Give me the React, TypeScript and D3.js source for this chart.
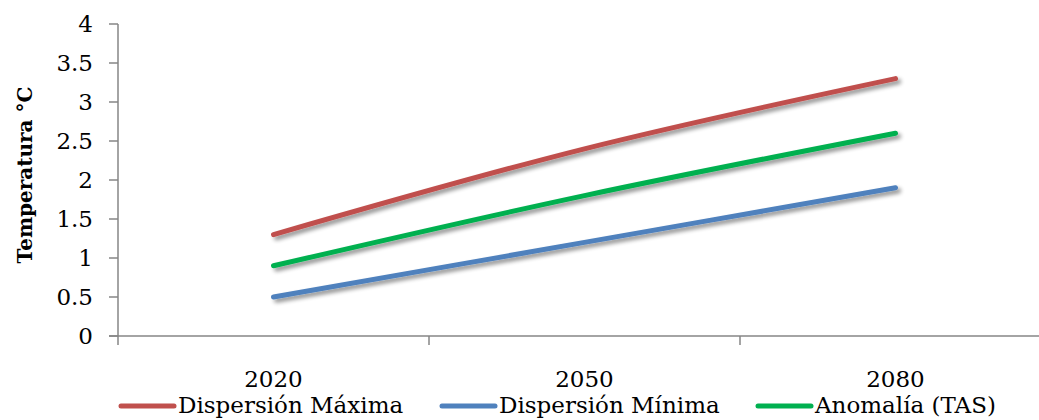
import React from "react";
import * as d3 from "d3";

const categories = ["2020", "2050", "2080"];
const dispMax = [1.3, 2.4, 3.3];
const dispMin = [0.5, 1.2, 1.9];
const anomalia = [0.9, 1.8, 2.6];
const yTicks = [0, 0.5, 1, 1.5, 2, 2.5, 3, 3.5, 4];
const seriesNames = ["Dispersión Máxima", "Dispersión Mínima", "Anomalía (TAS)"];
const yTitle = "Temperatura °C";

const W = 1039;
const H = 420;
const FONT = "DejaVu Serif";

export default function App() {
  const x0 = 118;
  const bandW = 311;
  const x = d3.scaleBand<string>().domain(categories).range([x0, x0 + bandW * 3]);
  const y = d3.scaleLinear().domain([0, 4]).range([336, 24]);
  const series = [
    { name: seriesNames[0], values: dispMax, color: "#C0504D" },
    { name: seriesNames[1], values: dispMin, color: "#4F81BD" },
    { name: seriesNames[2], values: anomalia, color: "#00B050" },
  ];
  const line = d3
    .line<number>()
    .x((_, i) => (x(categories[i]) as number) + x.bandwidth() / 2)
    .y((d) => y(d))
    .curve(d3.curveCatmullRom.alpha(0.5));
  const axisColor = "#868686";
  const legendX = [121, 442, 758];
  const fs = 23;
  return (
    <svg width={W} height={H} style={{ position: "absolute", left: 0, top: 0, fontFamily: FONT }}>
      <defs>
        <filter id="shadow" x="-20%" y="-50%" width="140%" height="200%">
          <feGaussianBlur in="SourceAlpha" stdDeviation="2" />
          <feOffset dx="3" dy="3" result="ob" />
          <feComponentTransfer>
            <feFuncA type="linear" slope="0.45" />
          </feComponentTransfer>
          <feMerge>
            <feMergeNode />
            <feMergeNode in="SourceGraphic" />
          </feMerge>
        </filter>
      </defs>
      {/* y axis */}
      <line x1={x0} x2={x0} y1={y(4)} y2={y(0) + 9} stroke={axisColor} strokeWidth={1.5} />
      {yTicks.map((t) => (
        <g key={t}>
          <line x1={x0 - 9} x2={x0} y1={y(t)} y2={y(t)} stroke={axisColor} strokeWidth={1.5} />
          <text x={x0 - 25} y={y(t)} dy="0.36em" textAnchor="end" fontSize={fs} fill="#000" style={{ fontFamily: FONT }}>
            {t}
          </text>
        </g>
      ))}
      {/* x axis */}
      <line x1={x0 - 9} x2={W} y1={y(0)} y2={y(0)} stroke={axisColor} strokeWidth={1.5} />
      {categories.map((c, i) => (
        <g key={c}>
          {i > 0 && (
            <line x1={x(c)} x2={x(c)} y1={y(0)} y2={y(0) + 9} stroke={axisColor} strokeWidth={1.5} />
          )}
          <text x={(x(c) as number) + x.bandwidth() / 2} y={387} textAnchor="middle" fontSize={fs} fill="#000" style={{ fontFamily: FONT }}>
            {c}
          </text>
        </g>
      ))}
      {/* y title */}
      <text
        transform={`translate(32, 175) rotate(-90)`}
        textAnchor="middle"
        fontSize={20}
        fontWeight="bold"
        fill="#000"
        style={{ fontFamily: FONT }}
      >
        {yTitle}
      </text>
      {/* lines */}
      {series.map((s) => (
        <path
          key={s.name}
          d={line(s.values) || ""}
          fill="none"
          stroke={s.color}
          strokeWidth={5}
          strokeLinecap="round"
          filter="url(#shadow)"
        />
      ))}
      {/* legend */}
      {series.map((s, i) => (
        <g key={s.name}>
          <line
            x1={legendX[i]}
            x2={legendX[i] + 53}
            y1={406}
            y2={406}
            stroke={s.color}
            strokeWidth={5}
            strokeLinecap="round"
          />
          <text x={legendX[i] + 57} y={413} fontSize={fs} fill="#000" style={{ fontFamily: FONT }}>
            {s.name}
          </text>
        </g>
      ))}
    </svg>
  );
}
